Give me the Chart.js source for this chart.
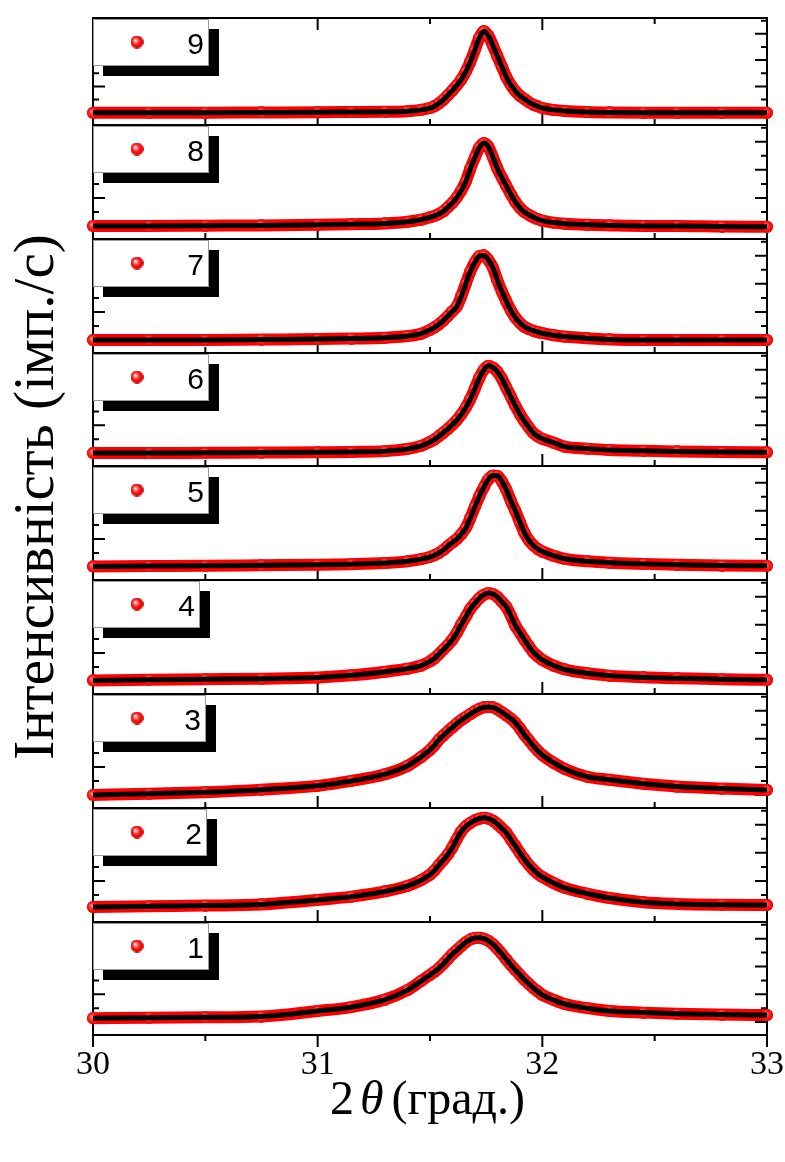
<!DOCTYPE html>
<html>
<head>
<meta charset="utf-8">
<title>XRD peak profiles</title>
<script src="https://cdn.jsdelivr.net/npm/chart.js@4.4.1/dist/chart.umd.min.js"></script>
<style>
  html, body { margin: 0; padding: 0; background: #fff; }
  #wrap { position: relative; width: 785px; height: 1162px; }
  #wrap canvas { position: absolute; left: 0; top: 0; }
</style>
</head>
<body>
<div id="wrap"></div>
<script>
// 2θ grid (degrees), same for every scan
const twoTheta = [30.0, 30.25, 30.5, 30.75, 31.0, 31.15, 31.3, 31.4, 31.46,
  31.50, 31.52, 31.54, 31.56, 31.58, 31.60, 31.62, 31.64, 31.66, 31.68, 31.70, 31.72, 31.74, 31.76,
  31.78, 31.80, 31.82, 31.84, 31.86, 31.88, 31.90, 31.92, 31.94, 31.96, 31.98, 32.00,
  32.05, 32.1, 32.2, 32.3, 32.45, 32.6, 32.8, 33.0];

// intensity (arbitrary counts, baseline ~0)
const scan9 = [0, 0, 0, 2, 4, 6, 8, 12, 22,
  36, 50, 72, 100, 135, 170, 210, 255, 315, 390, 480, 570, 620, 585,
  510, 430, 350, 270, 210, 165, 130, 105, 80, 62, 48, 36,
  22, 14, 6, 2, 0, 0, 0, 0];
const scan8 = [0, 0, 2, 4, 8, 12, 18, 30, 45,
  62, 72, 86, 105, 135, 165, 205, 255, 320, 410, 490, 560, 592, 565,
  490, 410, 345, 285, 225, 172, 130, 100, 80, 62, 48, 38,
  24, 16, 8, 4, 0, 0, -4, -6];
const scan7 = [0, 0, 0, 3, 6, 10, 16, 28, 45,
  72, 90, 112, 140, 172, 205, 240, 315, 405, 490, 555, 598, 603, 570,
  515, 425, 345, 275, 210, 160, 122, 94, 78, 66, 56, 48,
  34, 24, 12, 4, 0, 0, 0, 0];
const scan6 = [0, 0, 2, 4, 6, 8, 14, 30, 52,
  80, 98, 122, 148, 175, 205, 238, 280, 330, 390, 465, 543, 600, 628,
  615, 585, 535, 470, 405, 340, 280, 230, 185, 145, 120, 103,
  75, 46, 32, 22, 16, 12, 8, 6];
const scan5 = [4, 6, 8, 12, 16, 20, 28, 40, 56,
  72, 84, 100, 122, 150, 175, 200, 235, 280, 350, 430, 505, 570, 625,
  652, 650, 610, 550, 470, 400, 320, 245, 190, 155, 128, 110,
  80, 58, 40, 30, 22, 16, 10, 8];
const scan4 = [4, 8, 12, 16, 24, 40, 66, 88, 110,
  140, 162, 192, 225, 258, 295, 345, 405, 460, 515, 555, 590, 615, 628,
  620, 600, 565, 528, 465, 395, 345, 295, 248, 205, 175, 150,
  110, 82, 55, 38, 26, 20, 12, 8];
const scan3 = [0, 8, 20, 38, 65, 100, 148, 208, 270,
  322, 355, 395, 425, 455, 482, 510, 535, 556, 578, 598, 615, 625, 628,
  625, 610, 590, 568, 545, 515, 475, 430, 390, 350, 315, 285,
  230, 185, 130, 108, 80, 60, 46, 36];
const scan2 = [14, 20, 24, 32, 64, 88, 125, 165, 205,
  245, 275, 315, 350, 390, 440, 500, 555, 590, 615, 632, 645, 650, 645,
  630, 605, 575, 543, 495, 450, 400, 355, 315, 280, 250, 228,
  185, 150, 110, 78, 48, 36, 30, 28];
const scan1 = [28, 32, 34, 40, 80, 108, 162, 230, 295,
  340, 362, 388, 420, 455, 490, 518, 548, 575, 595, 605, 607, 600, 585,
  560, 528, 490, 450, 410, 375, 340, 305, 275, 245, 220, 195,
  160, 130, 100, 80, 68, 60, 54, 50];

const sampleNames = ['9', '8', '7', '6', '5', '4', '3', '2', '1'];
const scans = [scan9, scan8, scan7, scan6, scan5, scan4, scan3, scan2, scan1];

const xMajorTicks = [30, 31, 32, 33];
const xMinorTicks = [30.5, 31.5, 32.5];
const yMajorTicks = [0, 200, 400, 600];
const yMinorTicks = [100, 300, 500, 700];

// layout (px)
const PAGE_W = 785, PAGE_H = 1162;
const PLOT_LEFT = 93, PLOT_RIGHT = 768;
const panelEdges = [11, 125, 239, 353, 466, 580, 694, 808, 922, 1035];
const keyWidths = [116, 116, 116, 116, 116, 107, 113, 114, 116];
const MAJOR = 12, MINOR = 6;
const AXIS_H = 120;

function makeSphere(size, hi, mid, edge) {
  const c = document.createElement('canvas');
  c.width = c.height = size;
  const g = c.getContext('2d');
  const r = size / 2;
  const grad = g.createRadialGradient(r * 0.7, r * 0.7, 0, r, r, r);
  grad.addColorStop(0, hi);
  grad.addColorStop(0.55, mid);
  grad.addColorStop(1, edge);
  g.fillStyle = grad;
  g.beginPath();
  g.arc(r, r, r, 0, Math.PI * 2);
  g.fill();
  return c;
}

const dotImg = makeSphere(12, '#ff8c8c', '#ff2020', '#f00000');
const keyImg = makeSphere(13, '#ffffff', '#ff1a1a', '#c80000');

// frame + inward ticks, drawn under the data
const frameTicks = {
  id: 'frameTicks',
  beforeDatasetsDraw(chart, args, opts) {
    const { ctx, chartArea: a, scales: { x, y } } = chart;
    ctx.save();
    ctx.strokeStyle = '#000';
    ctx.lineWidth = 2;
    ctx.beginPath();
    const tick = (px, py, dx, dy) => { ctx.moveTo(px, py); ctx.lineTo(px + dx, py + dy); };
    yMajorTicks.forEach(v => {
      const py = y.getPixelForValue(v);
      tick(a.left, py, MAJOR, 0);
      tick(a.right, py, -MAJOR, 0);
    });
    yMinorTicks.forEach(v => {
      const py = y.getPixelForValue(v);
      tick(a.left, py, MINOR, 0);
      tick(a.right, py, -MINOR, 0);
    });
    const dir = opts.outward ? 1 : -1;
    xMajorTicks.forEach(v => {
      const px = x.getPixelForValue(v);
      tick(px, a.bottom, 0, dir * MAJOR);
      if (opts.topTicks) tick(px, a.top, 0, MAJOR);
    });
    xMinorTicks.forEach(v => {
      const px = x.getPixelForValue(v);
      tick(px, a.bottom, 0, dir * MINOR);
      if (opts.topTicks) tick(px, a.top, 0, MINOR);
    });
    ctx.stroke();
    ctx.strokeRect(a.left, a.top, a.width, a.height);
    ctx.restore();
  }
};

// boxed sample key with drop shadow, top-left of each panel
const sampleKey = {
  id: 'sampleKey',
  afterDatasetsDraw(chart, args, opts) {
    const { ctx, chartArea: a } = chart;
    const x0 = a.left, y0 = a.top + 1, w = opts.width, h = 47;
    ctx.save();
    ctx.fillStyle = '#000';
    ctx.fillRect(x0 + 10, y0 + 10, w, h);
    ctx.fillStyle = '#fff';
    ctx.fillRect(x0, y0, w, h);
    ctx.strokeStyle = '#999';
    ctx.lineWidth = 1;
    ctx.strokeRect(x0 + 0.5, y0 + 0.5, w - 1, h - 1);
    ctx.drawImage(keyImg, x0 + 44 - 6.5, y0 + 23 - 6.5);
    ctx.fillStyle = '#000';
    ctx.font = '30px "Liberation Sans", Arial, sans-serif';
    ctx.textAlign = 'right';
    ctx.textBaseline = 'alphabetic';
    ctx.fillText(opts.text, x0 + w - 5, y0 + 35);
    ctx.restore();
  }
};

// axis titles (y one spans all panels)
const axisTitles = {
  id: 'axisTitles',
  afterDraw(chart) {
    const ctx = chart.ctx;
    const serif = '"Liberation Serif", "Times New Roman", serif';
    ctx.save();
    ctx.fillStyle = '#000';
    ctx.textBaseline = 'alphabetic';
    ctx.font = '57px ' + serif;
    ctx.translate(53, 497);
    ctx.rotate(-Math.PI / 2);
    ctx.textAlign = 'center';
    ctx.fillText('Інтенсивність (імп./с)', 0, 0);
    ctx.restore();

    ctx.save();
    ctx.fillStyle = '#000';
    ctx.textAlign = 'left';
    ctx.textBaseline = 'alphabetic';
    const base = 1114;
    let cx = 330;
    ctx.font = '48px ' + serif;
    ctx.fillText('2', cx, base);
    cx += ctx.measureText('2').width + 6;
    ctx.font = 'italic 48px ' + serif;
    ctx.fillText('θ', cx, base);
    cx += ctx.measureText('θ').width + 8;
    ctx.font = '48px ' + serif;
    ctx.fillText('(град.)', cx, base);
    ctx.restore();
  }
};

const wrap = document.getElementById('wrap');

scans.forEach((ys, k) => {
  const top = panelEdges[k];
  const bottom = panelEdges[k + 1];
  const last = k === scans.length - 1;

  const canvas = document.createElement('canvas');
  canvas.width = PAGE_W;
  canvas.height = PAGE_H;
  wrap.appendChild(canvas);

  const pts = twoTheta.map((t, i) => ({ x: t, y: ys[i] }));

  const xScale = {
    type: 'linear',
    min: 30,
    max: 33,
    display: last,
    grid: { display: false, drawTicks: false },
    border: { display: false },
    ticks: {
      stepSize: 1,
      padding: 10,
      maxRotation: 0,
      color: '#000',
      font: { family: '"Liberation Serif", "Times New Roman", serif', size: 34 }
    }
  };
  if (last) {
    xScale.afterFit = (scale) => {
      scale.height = AXIS_H;
      scale.paddingLeft = 0;
      scale.paddingRight = 0;
    };
  }

  new Chart(canvas, {
    type: 'line',
    data: {
      datasets: [
        {
          label: 'fit',
          data: pts,
          borderColor: '#000',
          borderWidth: 5,
          pointRadius: 0,
          cubicInterpolationMode: 'monotone',
          clip: false,
          order: 0
        },
        {
          label: sampleNames[k],
          data: pts,
          borderColor: '#ff0000',
          borderWidth: 12,
          borderCapStyle: 'round',
          borderJoinStyle: 'round',
          pointStyle: dotImg,
          pointRadius: 6,
          cubicInterpolationMode: 'monotone',
          clip: false,
          order: 1
        }
      ]
    },
    options: {
      responsive: false,
      animation: false,
      events: [],
      layout: {
        padding: {
          left: PLOT_LEFT,
          right: PAGE_W - PLOT_RIGHT,
          top: top,
          bottom: last ? PAGE_H - bottom - AXIS_H : PAGE_H - bottom
        }
      },
      scales: {
        x: xScale,
        y: {
          min: -93,
          max: 720,
          display: false
        }
      },
      plugins: {
        legend: { display: false },
        tooltip: { enabled: false },
        frameTicks: { outward: last, topTicks: k === 0 },
        sampleKey: { text: sampleNames[k], width: keyWidths[k] }
      }
    },
    plugins: last ? [frameTicks, sampleKey, axisTitles] : [frameTicks, sampleKey]
  });
});
</script>
</body>
</html>
